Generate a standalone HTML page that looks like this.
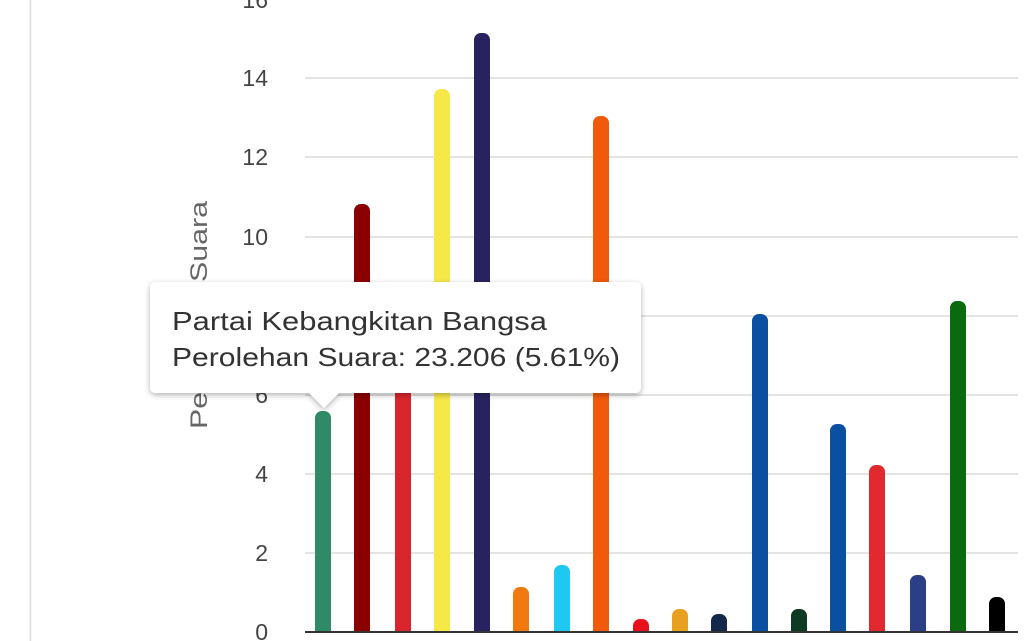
<!DOCTYPE html>
<html><head><meta charset="utf-8"><style>
html,body{margin:0;padding:0;background:#fff;}
body{width:1035px;height:641px;overflow:hidden;position:relative;font-family:"Liberation Sans",sans-serif;}
</style></head><body>
<svg width="1035" height="641" xmlns="http://www.w3.org/2000/svg" style="position:absolute;left:0;top:0">
<defs>
<filter id="sh" x="-10%" y="-20%" width="120%" height="150%"><feDropShadow dx="0" dy="2" stdDeviation="3" flood-color="#000" flood-opacity="0.3"/></filter>
<clipPath id="cp"><rect x="0" y="0" width="1035" height="632"/></clipPath>
</defs>
<line x1="30.5" y1="0" x2="30.5" y2="641" stroke="#ddd" stroke-width="1.5"/>
<g stroke="#e4e4e4" stroke-width="2">
<line x1="305" x2="1018" y1="553" y2="553"/>
<line x1="305" x2="1018" y1="474" y2="474"/>
<line x1="305" x2="1018" y1="395" y2="395"/>
<line x1="305" x2="1018" y1="316" y2="316"/>
<line x1="305" x2="1018" y1="237" y2="237"/>
<line x1="305" x2="1018" y1="157" y2="157"/>
<line x1="305" x2="1018" y1="78" y2="78"/>
</g>
<g font-size="23" fill="#444" text-anchor="end" font-family="Liberation Sans,sans-serif">
<text x="268" y="640">0</text>
<text x="268" y="561">2</text>
<text x="268" y="482">4</text>
<text x="268" y="403">6</text>
<text x="268" y="324">8</text>
<text x="268" y="245">10</text>
<text x="268" y="165">12</text>
<text x="268" y="86">14</text>
<text x="268" y="8">16</text>
</g>
<text transform="translate(207,315) rotate(-90)" font-size="24" fill="#666" text-anchor="middle" textLength="228" lengthAdjust="spacingAndGlyphs">Perolehan Suara</text>
<g clip-path="url(#cp)">
<rect x="315" y="411" width="16" height="240" rx="7" fill="#2e8b66"/>
<rect x="354" y="204" width="16" height="450" rx="7" fill="#8b0000"/>
<rect x="395" y="320" width="16" height="330" rx="7" fill="#d9262c"/>
<rect x="434" y="89" width="16" height="560" rx="7" fill="#f7e84a"/>
<rect x="474" y="33" width="16" height="610" rx="7" fill="#26235f"/>
<rect x="513" y="587" width="16" height="60" rx="7" fill="#f07a10"/>
<rect x="554" y="565" width="16" height="80" rx="7" fill="#1ec8f0"/>
<rect x="593" y="116" width="16" height="530" rx="7" fill="#f05a0a"/>
<rect x="633" y="619" width="16" height="30" rx="7" fill="#e8101a"/>
<rect x="672" y="609" width="16" height="40" rx="7" fill="#e8a020"/>
<rect x="711" y="614" width="16" height="40" rx="7" fill="#14284a"/>
<rect x="752" y="314" width="16" height="330" rx="7" fill="#0a4fa0"/>
<rect x="791" y="609" width="16" height="40" rx="7" fill="#0f3a24"/>
<rect x="830" y="424" width="16" height="220" rx="7" fill="#0a4fa0"/>
<rect x="869" y="465" width="16" height="180" rx="7" fill="#e02a30"/>
<rect x="910" y="575" width="16" height="70" rx="7" fill="#2a3f86"/>
<rect x="950" y="301" width="16" height="340" rx="7" fill="#0a6a10"/>
<rect x="989" y="597" width="16" height="50" rx="7" fill="#000"/>
</g>
<line x1="305" x2="1018" y1="632" y2="632" stroke="#333" stroke-width="2"/>
<g filter="url(#sh)">
<path d="M156,282 H635 Q641,282 641,288 V387 Q641,393 635,393 H339 L324,408 L309,393 H156 Q150,393 150,387 V288 Q150,282 156,282 Z" fill="#fff"/>
</g>
<text x="172" y="330" font-size="26" fill="#333" textLength="375" lengthAdjust="spacingAndGlyphs">Partai Kebangkitan Bangsa</text>
<text x="172" y="366" font-size="26" fill="#333" textLength="448" lengthAdjust="spacingAndGlyphs">Perolehan Suara: 23.206 (5.61%)</text>
</svg>
</body></html>
